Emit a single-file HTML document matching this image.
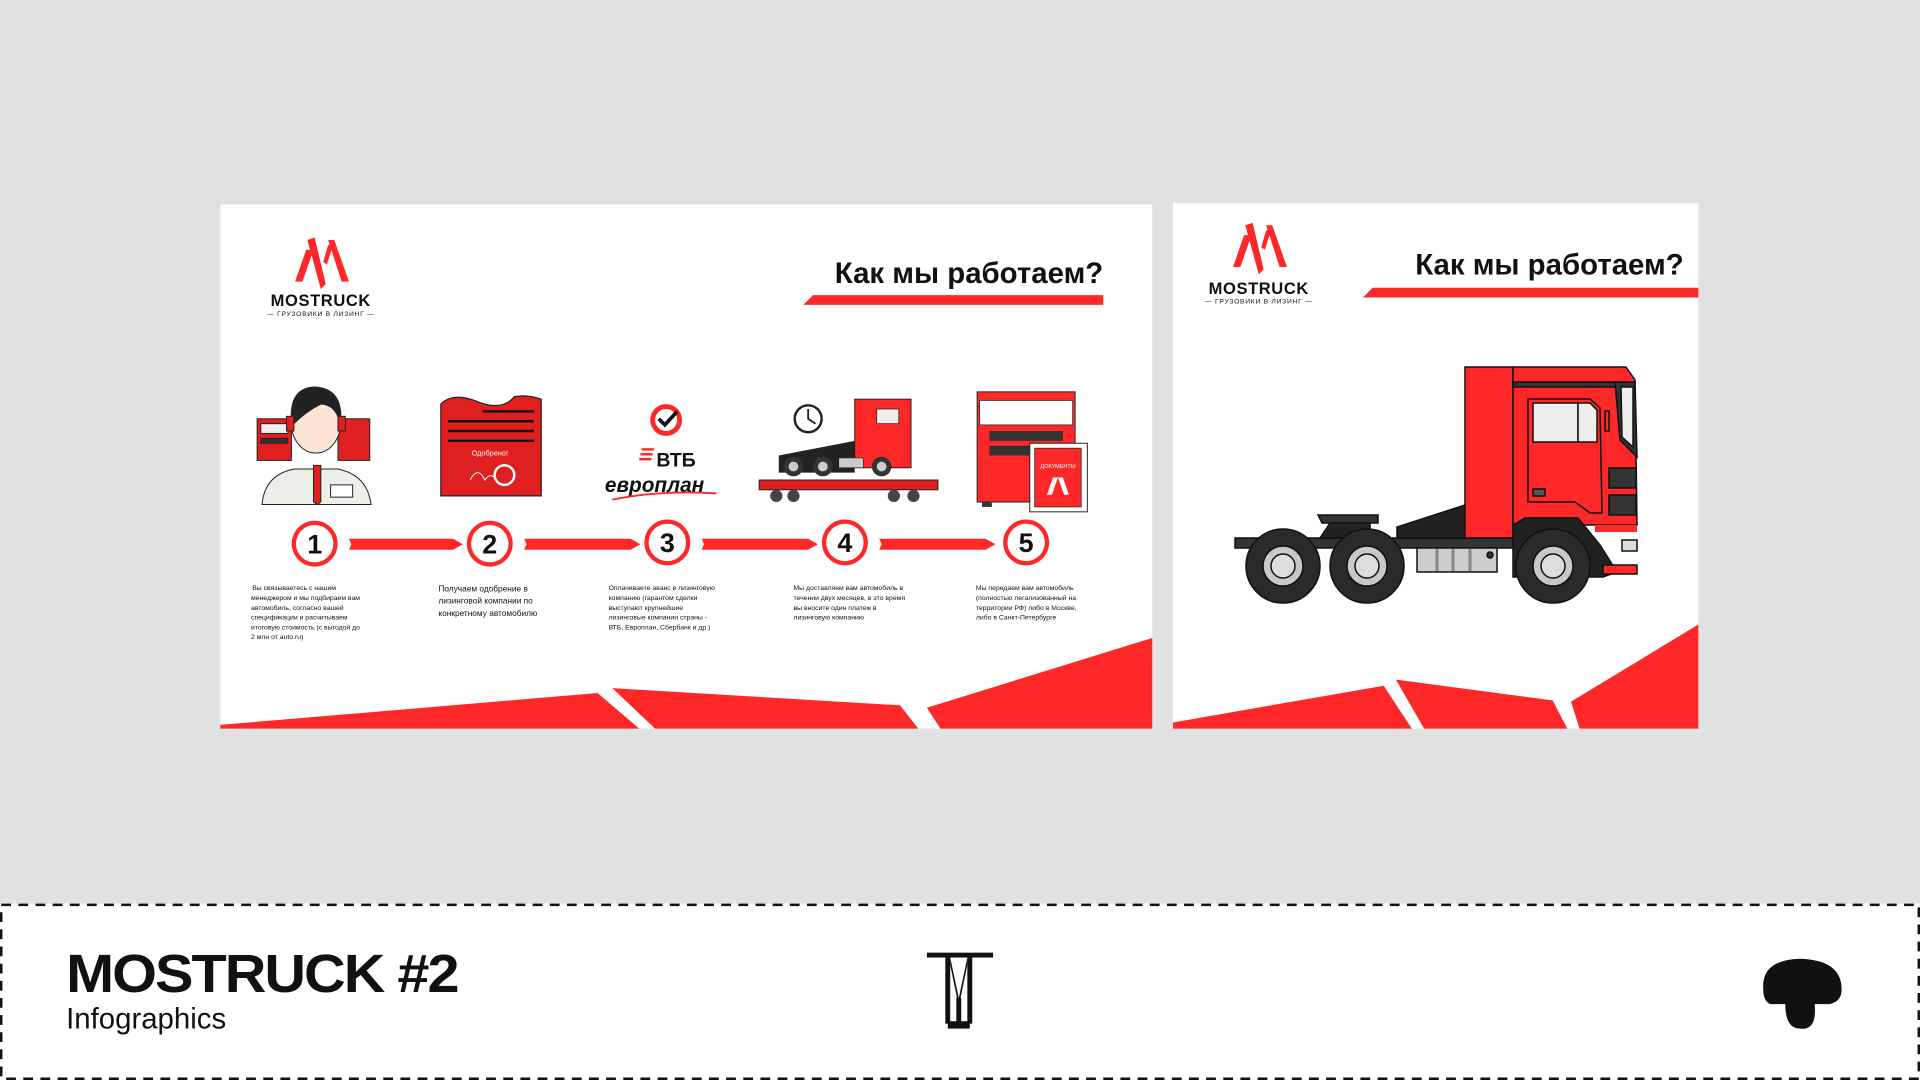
<!DOCTYPE html>
<html><head><meta charset="utf-8"><style>
html,body{margin:0;padding:0;background:#e1e1e1;}
svg{display:block;}
text{font-family:"Liberation Sans","DejaVu Sans",sans-serif;}
</style></head><body>
<svg width="1920" height="1080" viewBox="0 0 1568 882" xmlns="http://www.w3.org/2000/svg">
<rect x="0" y="0" width="1568" height="882" fill="#e1e1e1"/>
<!-- LEFT CARD -->
<rect x="180" y="167" width="761" height="428" fill="#fff"/>
<g fill="#ff2828">
<polygon points="241,230 250,204 256,204 247,230"/>
<polygon points="251,196 257,194 266,232 262,236"/>
<polygon points="264,214 268,200 272,200 267,216"/>
<polygon points="268,196 273,196 285,230 279,230"/>
</g>
<text x="262" y="250" font-size="13.5" font-weight="bold" text-anchor="middle" fill="#111" letter-spacing="0.5">MOSTRUCK</text>
<text x="262" y="258" font-size="5.5" text-anchor="middle" fill="#111" letter-spacing="0.6">— ГРУЗОВИКИ В ЛИЗИНГ —</text>
<text x="901" y="231" font-size="24" font-weight="bold" text-anchor="end" fill="#111">Как мы работаем?</text>
<polygon points="664,241 901,241 901,249 656,249" fill="#ff2828"/>
<g stroke="#222" stroke-width="0.8">
<rect x="210" y="342" width="28" height="34" fill="#e02020"/>
<rect x="213" y="346" width="22" height="8" fill="#eee"/>
<rect x="213" y="358" width="22" height="4" fill="#333"/>
<rect x="276" y="342" width="26" height="34" fill="#e02020"/>
<path d="M214,412 Q216,388 240,383 L276,383 Q300,388 303,412 Z" fill="#eceee8"/>
<ellipse cx="258" cy="346" rx="20" ry="24" fill="#fbe3d6"/>
<path d="M238,344 Q236,316 258,316 Q281,318 278,346 Q274,330 262,330 Q250,336 240,346 Z" fill="#222"/>
<rect x="234" y="340" width="6" height="12" fill="#e02020"/>
<rect x="276" y="340" width="6" height="12" fill="#e02020"/>
<polygon points="256,380 262,380 262,410 259,412 256,410" fill="#e02020"/>
<rect x="270" y="396" width="18" height="10" fill="#fff"/>
</g>
<path d="M360,330 Q370,320 390,328 Q410,336 420,324 Q430,322 442,326 L442,405 L360,405 Z" fill="#e02020" stroke="#222" stroke-width="1"/>
<g stroke="#111" stroke-width="2"><line x1="394" y1="336" x2="436" y2="336"/><line x1="366" y1="344" x2="436" y2="344"/><line x1="366" y1="352" x2="436" y2="352"/><line x1="366" y1="360" x2="436" y2="360"/></g>
<text x="400" y="372" font-size="6" fill="#fff" text-anchor="middle">Одобрено!</text>
<circle cx="412" cy="388" r="8" fill="none" stroke="#fff" stroke-width="2"/>
<path d="M384,392 Q390,380 396,392 Q400,386 404,390" stroke="#fff" fill="none" stroke-width="0.8"/>
<circle cx="544" cy="343" r="11" fill="none" stroke="#ff2828" stroke-width="4"/>
<path d="M538,342 L543,347 L553,336" stroke="#111" stroke-width="3" fill="none"/>
<g fill="#ff2828"><rect x="524" y="366" width="10" height="2"/><rect x="523" y="370" width="10" height="2"/><rect x="522" y="374" width="10" height="2"/></g>
<text x="536" y="381" font-size="16" font-weight="bold" fill="#111">ВТБ</text>
<text x="494" y="402" font-size="17" font-weight="bold" font-style="italic" fill="#111">европлан</text>
<path d="M500,408 Q540,400 585,403" stroke="#ff2828" stroke-width="1.5" fill="none"/>
<circle cx="660" cy="342" r="11" fill="#fff" stroke="#222" stroke-width="2"/>
<path d="M660,334 L660,342 L666,346" stroke="#222" stroke-width="1.5" fill="none"/>
<rect x="620" y="392" width="146" height="8" fill="#e02020" stroke="#222" stroke-width="0.8"/>
<g fill="#444"><circle cx="634" cy="405" r="5"/><circle cx="648" cy="405" r="5"/><circle cx="730" cy="405" r="5"/><circle cx="746" cy="405" r="5"/></g>
<rect x="698" y="326" width="46" height="56" fill="#ff2828" stroke="#222" stroke-width="0.8"/>
<rect x="716" y="334" width="18" height="12" fill="#eee" stroke="#222" stroke-width="0.6"/>
<polygon points="636,372 698,360 698,386 636,386" fill="#222"/>
<g><circle cx="648" cy="381" r="8" fill="#333"/><circle cx="648" cy="381" r="4" fill="#ccc"/><circle cx="672" cy="381" r="8" fill="#333"/><circle cx="672" cy="381" r="4" fill="#ccc"/><circle cx="720" cy="381" r="8" fill="#333"/><circle cx="720" cy="381" r="4" fill="#ccc"/></g>
<rect x="685" y="374" width="20" height="8" fill="#ccc" stroke="#222" stroke-width="0.5"/>
<rect x="798" y="320" width="80" height="90" fill="#ff2828" stroke="#222" stroke-width="0.8"/>
<rect x="800" y="327" width="76" height="20" fill="#fff" stroke="#222" stroke-width="0.6"/>
<rect x="808" y="352" width="60" height="8" fill="#333"/>
<rect x="808" y="364" width="60" height="8" fill="#333"/>
<rect x="802" y="410" width="8" height="4" fill="#333"/>
<rect x="841" y="362" width="47" height="56" fill="#fff" stroke="#222" stroke-width="0.8"/>
<rect x="845" y="366" width="38" height="48" fill="#ff2828" stroke="#222" stroke-width="0.6"/>
<text x="864" y="382" font-size="4.5" fill="#fff" text-anchor="middle">ДОКУМЕНТЫ</text>
<polygon points="855,404 860,390 864,390 859,404" fill="#fff"/><polygon points="864,390 868,390 873,404 869,404" fill="#fff"/>
<g fill="#ff2828">
<polygon points="285,440 370,440 378,444.5 370,449 285,449 287,444.5"/>
<polygon points="428,440 515,440 523,444.5 515,449 428,449 430,444.5"/>
<polygon points="573,440 660,440 668,444.5 660,449 573,449 575,444.5"/>
<polygon points="718,440 805,440 813,444.5 805,449 718,449 720,444.5"/>
</g>
<g fill="#fff" stroke="#ff2828" stroke-width="3.5">
<circle cx="257" cy="444" r="17"/><circle cx="400" cy="444" r="17"/><circle cx="545" cy="443" r="17"/><circle cx="690" cy="443" r="17"/><circle cx="838" cy="443" r="17"/>
</g>
<g font-size="22" font-weight="bold" text-anchor="middle" fill="#111">
<text x="257" y="452">1</text><text x="400" y="452">2</text><text x="545" y="451">3</text><text x="690" y="451">4</text><text x="838" y="451">5</text>
</g>
<g font-size="5.6" fill="#111">
<text x="206" y="482">Вы связываетесь с нашим</text>
<text x="205" y="490">менеджером и мы подбираем вам</text>
<text x="205" y="498">автомобиль, согласно вашей</text>
<text x="205" y="506">спецификации и расчитываем</text>
<text x="205" y="514">итоговую стоимость (с выгодой до</text>
<text x="205" y="522">2 млн от auto.ru)</text>
</g>
<g font-size="6.8" fill="#111">
<text x="358" y="483">Получаем одобрение в</text>
<text x="358" y="493">лизинговой компании по</text>
<text x="358" y="503">конкретному автомобилю</text>
</g>
<g font-size="5.6" fill="#111">
<text x="497" y="482">Оплачиваете аванс в лизинговую</text>
<text x="497" y="490">компанию (гарантом сделки</text>
<text x="497" y="498">выступают крупнейшие</text>
<text x="497" y="506">лизинговые компании страны -</text>
<text x="497" y="514">ВТБ, Европлан, Сбербанк и др.)</text>
<text x="648" y="482">Мы доставляем вам автомобиль в</text>
<text x="648" y="490">течении двух месяцев, в это время</text>
<text x="648" y="498">вы вносите один платеж в</text>
<text x="648" y="506">лизинговую компанию</text>
<text x="797" y="482">Мы передаем вам автомобиль</text>
<text x="797" y="490">(полностью легализованный на</text>
<text x="797" y="498">территории РФ) либо в Москве,</text>
<text x="797" y="506">либо в Санкт-Петербурге</text>
</g>
<g fill="#ff2828">
<polygon points="180,592 488,566 522,595 180,595"/>
<polygon points="500,562 735,576 750,595 535,595"/>
<polygon points="757,578 941,521 941,595 768,595"/>
</g>
<!-- RIGHT CARD -->
<rect x="958" y="166" width="429" height="429" fill="#fff"/>
<g fill="#ff2828">
<polygon points="1007,218 1016,192 1022,192 1013,218"/>
<polygon points="1017,184 1023,182 1032,220 1028,224"/>
<polygon points="1030,202 1034,188 1038,188 1033,204"/>
<polygon points="1034,184 1039,184 1051,218 1045,218"/>
</g>
<text x="1028" y="240" font-size="13.5" font-weight="bold" text-anchor="middle" fill="#111" letter-spacing="0.5">MOSTRUCK</text>
<text x="1028" y="248" font-size="5.5" text-anchor="middle" fill="#111" letter-spacing="0.6">— ГРУЗОВИКИ В ЛИЗИНГ —</text>
<text x="1375" y="224" font-size="24" font-weight="bold" text-anchor="end" fill="#111">Как мы работаем?</text>
<polygon points="1121,235 1387,235 1387,243 1113,243" fill="#ff2828"/>
<g transform="scale(0.81667)" stroke="#111" stroke-width="1.5">
<rect x="1235" y="538" width="278" height="10" fill="#333"/>
<polygon points="1397,538 1397,527 1465,505 1465,538" fill="#222"/>
<polygon points="1318,515 1378,515 1378,523 1322,523" fill="#333"/>
<polygon points="1330,523 1370,523 1370,538 1320,538" fill="#222"/>
<rect x="1465" y="367" width="48" height="171" fill="#ff2828"/>
<polygon points="1513,367 1626,367 1635,380 1637,525 1513,525" fill="#ff2828"/>
<rect x="1513" y="382" width="102" height="5" fill="#333"/>
<path d="M1615,382 L1635,382 L1637,457 L1620,440 Z" fill="#333"/>
<path d="M1621,387 L1633,387 L1633,447 L1622,437 Z" fill="#eee"/>
<polygon points="1528,399 1590,399 1600,408 1602,513 1590,513 1575,502 1528,502" fill="#ff2828"/>
<rect x="1533" y="403" width="45" height="39" fill="#eee"/>
<polygon points="1578,403 1590,403 1597,410 1597,442 1578,442" fill="#eee"/>
<rect x="1605" y="411" width="4" height="20" fill="#ff2828"/>
<rect x="1533" y="489" width="12" height="7" fill="#555"/>
<rect x="1609" y="468" width="27" height="20" fill="#333"/>
<rect x="1609" y="495" width="27" height="20" fill="#333"/>
<polygon points="1513,525 1525,518 1578,518 1600,545 1617,572 1603,577 1513,577" fill="#222"/>
<rect x="1595" y="525" width="42" height="7" fill="#ff2828" stroke="none"/>
<rect x="1622" y="540" width="15" height="11" fill="#ddd"/>
<rect x="1603" y="565" width="34" height="9" fill="#ff2828"/>
<rect x="1417" y="548" width="80" height="24" fill="#ccc"/>
<g stroke="#888" stroke-width="3"><line x1="1437" y1="549" x2="1437" y2="571"/><line x1="1453" y1="549" x2="1453" y2="571"/><line x1="1470" y1="549" x2="1470" y2="571"/></g>
<circle cx="1490" cy="555" r="3" fill="#333"/>
<g fill="#2a2a2a"><circle cx="1283" cy="566" r="37"/><circle cx="1367" cy="566" r="37"/><circle cx="1553" cy="566" r="37"/></g>
<g fill="#c8c8c8"><circle cx="1283" cy="566" r="20"/><circle cx="1367" cy="566" r="20"/><circle cx="1553" cy="566" r="20"/></g>
<g fill="#ddd"><circle cx="1283" cy="566" r="12"/><circle cx="1367" cy="566" r="12"/><circle cx="1553" cy="566" r="12"/></g>
</g>
<g fill="#ff2828">
<polygon points="958,590 1130,560 1153,595 958,595"/>
<polygon points="1140,555 1268,572 1280,595 1163,595"/>
<polygon points="1283,573 1387,510 1387,595 1290,595"/>
</g>
<!-- FOOTER -->
<rect x="0" y="738" width="1568" height="144" fill="#fff"/>
<rect x="1" y="739" width="1566" height="142" fill="none" stroke="#111" stroke-width="2" stroke-dasharray="8,6"/>
<text x="54" y="810" font-size="44" font-weight="900" fill="#111" transform="translate(54,0) scale(1.07,1) translate(-54,0)" letter-spacing="-1.5">MOSTRUCK #2</text>
<text x="54" y="840" font-size="24" fill="#111">Infographics</text>
<g fill="#111">
<rect x="757" y="778" width="54" height="4"/>
<rect x="772" y="782" width="4" height="54"/><rect x="790" y="782" width="4" height="54"/>
<polygon points="776,782 783,815 790,782 790,788 783,822 776,788"/>
<rect x="781" y="815" width="4" height="22"/>
<rect x="774" y="834" width="18" height="6"/>
</g>
<path d="M1440,808 Q1438,784 1470,783 Q1504,784 1504,808 Q1504,818 1494,820 L1482,820 Q1484,842 1470,840 Q1458,840 1458,820 L1446,820 Q1440,818 1440,808 Z" fill="#111"/>
</svg>
</body></html>
